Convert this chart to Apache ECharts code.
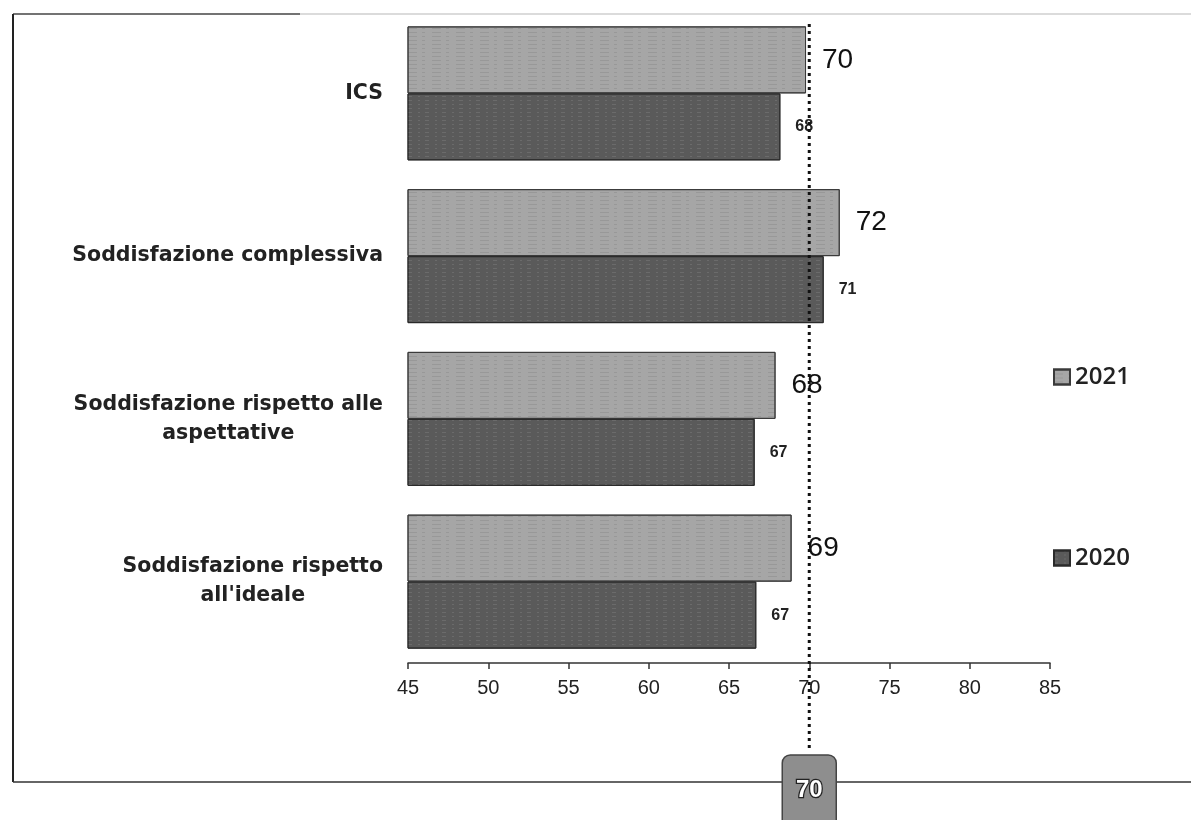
<!DOCTYPE html>
<html><head><meta charset="utf-8">
<script src="https://cdn.jsdelivr.net/npm/echarts@6/dist/echarts.min.js"></script>
<style>html,body{margin:0;padding:0;background:#fff;}#main{width:1191px;height:820px;}</style>
</head><body><div id="main"></div>
<script>
// ---- data ----
const categories = ['ICS', 'Soddisfazione complessiva', 'Soddisfazione rispetto alle\naspettative', "Soddisfazione rispetto\nall'ideale"];
const seriesNames = ['2021', '2020'];
const values2021 = [69.8, 71.9, 67.9, 68.9];
const values2020 = [68.2, 70.9, 66.6, 66.7];
const xMin = 45, xMax = 85, xStep = 5;
const referenceValue = 70;

// ---- chart ----
const chart = echarts.init(document.getElementById('main'), null, {renderer: 'canvas'});
const round = p => String(Math.round(p.value));

chart.setOption({
  animation: false,
  backgroundColor: '#ffffff',
  grid: {left: 408, right: 141, top: 12, bottom: 157, containLabel: false},
  legend: {
    orient: 'vertical', left: 1048, top: 360,
    itemWidth: 16, itemHeight: 15, itemGap: 157, icon: 'rect',
    textStyle: {fontFamily: 'Open Sans', fontWeight: 600, fontSize: 24, lineHeight: 24, color: '#222'},
    data: seriesNames
  },
  xAxis: {
    type: 'value', min: xMin, max: xMax, interval: xStep,
    splitLine: {show: false},
    axisLine: {show: true, lineStyle: {color: '#333', width: 1.5}},
    axisTick: {show: true, length: 6, lineStyle: {color: '#333', width: 1.5}},
    axisLabel: {fontFamily: 'Liberation Sans', fontSize: 20, color: '#222', margin: 15}
  },
  yAxis: {
    type: 'category', data: categories, inverse: true,
    axisLine: {show: false}, axisTick: {show: false},
    axisLabel: {
      margin: 25, align: 'right',
      formatter: v => v.split('\n').map(l => '{c|' + l + '}').join('\n'),
      rich: {c: {align: 'center', fontFamily: 'DejaVu Sans', fontWeight: 'bold', fontSize: 20.5, lineHeight: 29, color: '#222'}}
    }
  },
  series: [
    {
      name: seriesNames[0], type: 'bar', data: values2021,
      barWidth: 67, barGap: '0%',
      itemStyle: {color: '#a6a6a6', borderColor: '#3a3a3a', borderWidth: 1,
        decal: {symbol: 'rect', symbolSize: 1, color: 'rgba(90,90,90,0.18)', dashArrayX: [[9, 5, 3, 7]], dashArrayY: [1, 3]}},
      label: {show: true, position: 'right', distance: 16, formatter: round,
        fontFamily: 'Liberation Sans', fontSize: 28, color: '#111'}
    },
    {
      name: seriesNames[1], type: 'bar', data: values2020,
      barWidth: 67, barGap: '0%',
      itemStyle: {color: '#5a5a5a', borderColor: '#2a2a2a', borderWidth: 1,
        decal: {symbol: 'rect', symbolSize: 1, color: 'rgba(170,170,170,0.22)', dashArrayX: [[4, 6, 2, 5]], dashArrayY: [1, 3]}},
      label: {show: true, position: 'right', distance: 15, formatter: round,
        fontFamily: 'Liberation Sans', fontWeight: 'bold', fontSize: 16, color: '#222'}
    }
  ]
});

// reference line + badge positioned from the axis scale
const px = chart.convertToPixel({xAxisIndex: 0}, referenceValue);
chart.setOption({
  graphic: [
    {type: 'line', shape: {x1: 13, y1: 14, x2: 300, y2: 14}, style: {stroke: '#444', lineWidth: 1.5}, z: 1},
    {type: 'line', shape: {x1: 300, y1: 14, x2: 1191, y2: 14}, style: {stroke: '#cfcfcf', lineWidth: 1.5}, z: 1},
    {type: 'line', shape: {x1: 13, y1: 14, x2: 13, y2: 782}, style: {stroke: '#222', lineWidth: 2}, z: 1},
    {type: 'line', shape: {x1: 13, y1: 782, x2: 1191, y2: 782}, style: {stroke: '#333', lineWidth: 1.5}, z: 1},
    {type: 'line', shape: {x1: px, y1: 24, x2: px, y2: 750}, style: {stroke: '#111', lineWidth: 3, lineDash: [3, 4]}, z: 10},
    {type: 'rect', shape: {x: px - 27, y: 755, width: 54, height: 80, r: 8}, style: {fill: '#8e8e8e', stroke: '#444', lineWidth: 1.5}, z: 10},
    {type: 'text', x: px, y: 790, style: {text: String(referenceValue), fill: '#fff', stroke: '#222', lineWidth: 2.5, strokeFirst: true,
      font: 'bold 24px "Liberation Sans"', align: 'center', verticalAlign: 'middle'}, z: 11}
  ]
});
</script>
</body></html>
